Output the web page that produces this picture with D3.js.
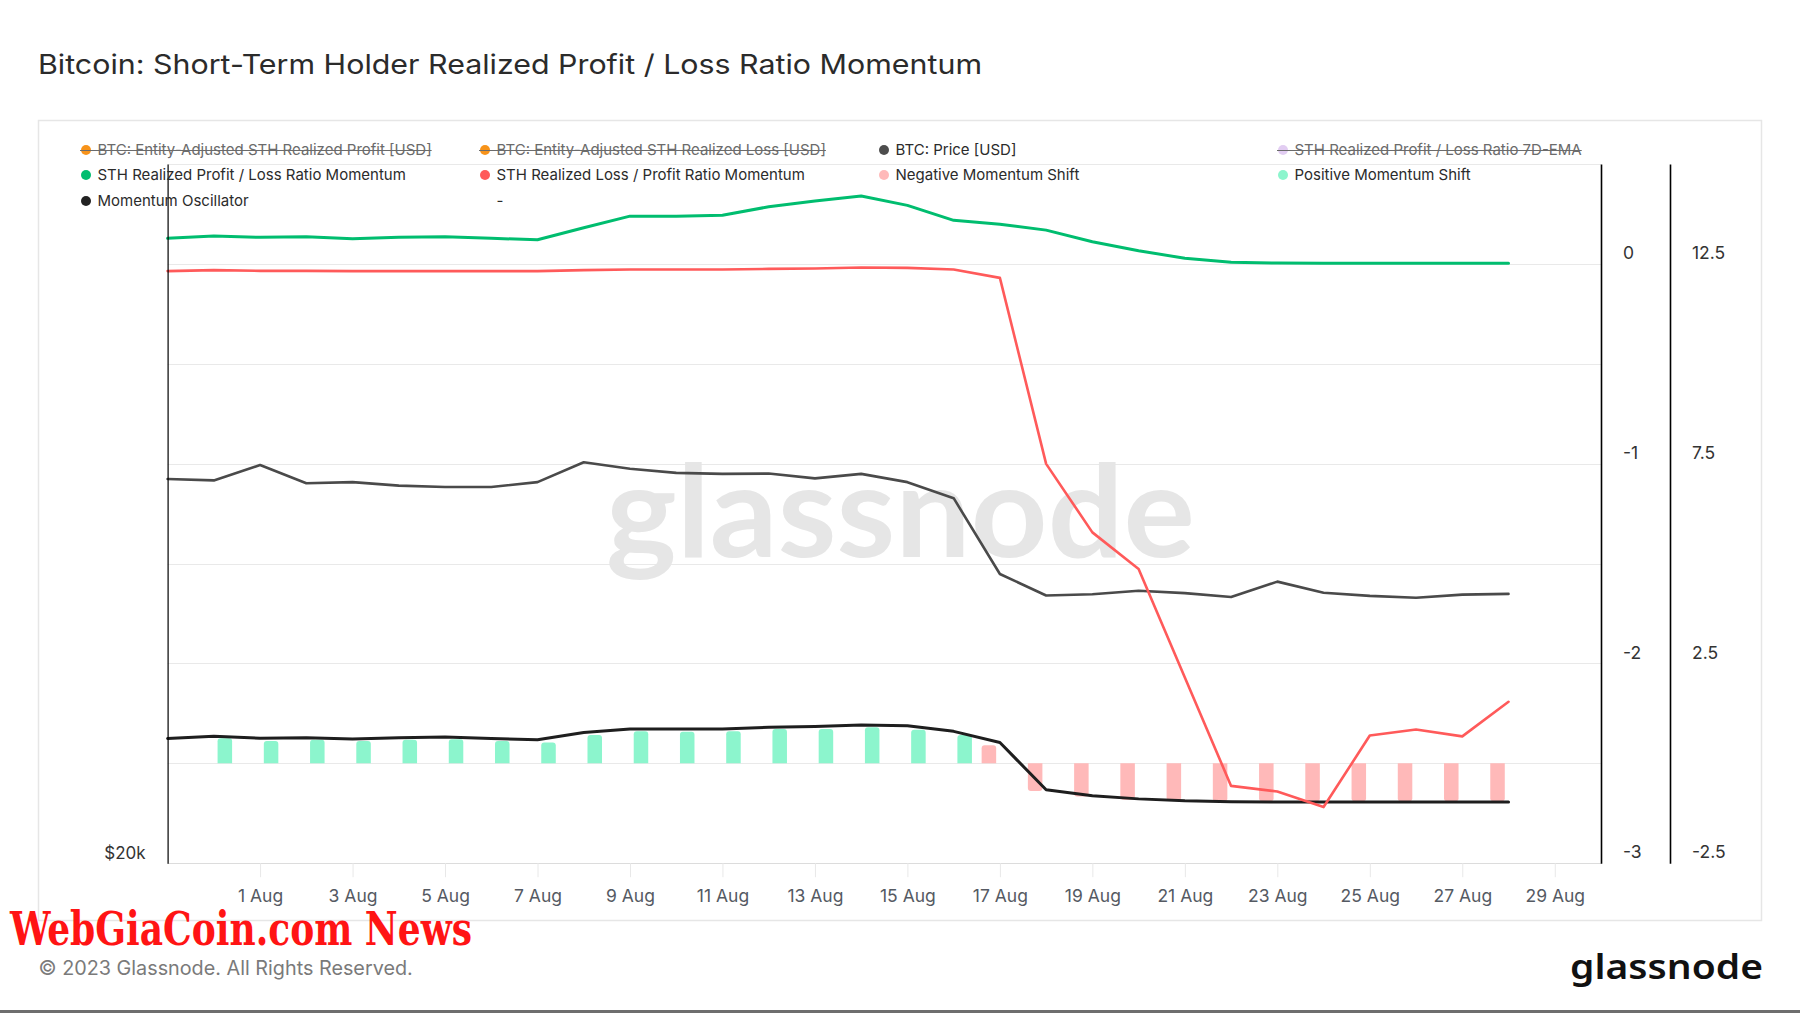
<!DOCTYPE html>
<html>
<head>
<meta charset="utf-8">
<script src="https://cdn.jsdelivr.net/npm/d3@7"></script>
<style>
  html, body { margin: 0; padding: 0; background: #fff; }
  svg { display: block; font-family: Inter, "Noto Sans", sans-serif; }
</style>
</head>
<body>
<svg id="chart" width="1800" height="1013"></svg>
<script>
// ---------------- DATA ----------------
const dates = ["2023-07-30","2023-07-31","2023-08-01","2023-08-02","2023-08-03","2023-08-04","2023-08-05","2023-08-06","2023-08-07","2023-08-08","2023-08-09","2023-08-10","2023-08-11","2023-08-12","2023-08-13","2023-08-14","2023-08-15","2023-08-16","2023-08-17","2023-08-18","2023-08-19","2023-08-20","2023-08-21","2023-08-22","2023-08-23","2023-08-24","2023-08-25","2023-08-26","2023-08-27","2023-08-28"];
const btcPrice = [29270,29230,29680,29150,29180,29080,29040,29040,29180,29760,29570,29450,29420,29430,29290,29420,29180,28720,26640,26080,26110,26200,26140,26040,26440,26150,26070,26020,26100,26120];
const profitLossMomentum = [0.128,0.139,0.133,0.136,0.126,0.133,0.136,0.128,0.121,0.181,0.239,0.239,0.243,0.286,0.315,0.340,0.293,0.218,0.198,0.169,0.111,0.066,0.028,0.008,0.004,0.003,0.003,0.003,0.003,0.003];
const lossProfitMomentum = [-0.036,-0.031,-0.035,-0.035,-0.036,-0.036,-0.036,-0.036,-0.036,-0.031,-0.028,-0.028,-0.028,-0.025,-0.023,-0.018,-0.020,-0.028,-0.070,-1.001,-1.344,-1.527,-2.071,-2.613,-2.641,-2.719,-2.361,-2.331,-2.365,-2.192];
const momentumOscillator = [0.62,0.68,0.63,0.64,0.61,0.64,0.66,0.62,0.59,0.77,0.86,0.86,0.86,0.90,0.92,0.96,0.94,0.80,0.52,-0.66,-0.81,-0.89,-0.94,-0.96,-0.97,-0.97,-0.97,-0.97,-0.97,-0.97];
const positiveShift = [null,0.63,0.56,0.59,0.56,0.59,0.60,0.56,0.52,0.71,0.80,0.79,0.80,0.86,0.86,0.90,0.84,0.71,null,null,null,null,null,null,null,null,null,null,null,null];
const negativeShift = [null,null,null,null,null,null,null,null,null,null,null,null,null,null,null,null,null,null,0.45,-0.69,-0.83,-0.91,-0.93,-0.95,-0.95,-0.95,-0.95,-0.95,-0.95,-0.95];

const xTickDates = ["2023-08-01","2023-08-03","2023-08-05","2023-08-07","2023-08-09","2023-08-11","2023-08-13","2023-08-15","2023-08-17","2023-08-19","2023-08-21","2023-08-23","2023-08-25","2023-08-27","2023-08-29"];
const ratioTicks = [0,-1,-2,-3];
const oscTicks = [12.5,7.5,2.5,-2.5];
const priceTicks = [20000];

const legendLabels = ["BTC: Entity-Adjusted STH Realized Profit [USD]","BTC: Entity-Adjusted STH Realized Loss [USD]","BTC: Price [USD]","STH Realized Profit / Loss Ratio 7D-EMA","STH Realized Profit / Loss Ratio Momentum","STH Realized Loss / Profit Ratio Momentum","Negative Momentum Shift","Positive Momentum Shift","Momentum Oscillator","-"];
const legendColors = ["#f7931a","#f7931a","#4d4d4d","#e2cdf2","#00bd6f","#ff5a5a","#ffb9b9","#8cf5cd","#222222",null];
const legendStruck = [true,true,false,true,false,false,false,false,false,false];

// ---------------- LAYOUT ----------------
const W = 1800, H = 1013;
const L = 167.6, R = 1601, T = 164, B = 863.2;
const parse = d3.utcParse("%Y-%m-%d");
const xDates = dates.map(parse);

const svg = d3.select("#chart");

const x = d3.scaleUtc().domain([parse("2023-07-30"), parse("2023-08-30")]).range([L, R]);
const yRatio = d3.scaleLinear().domain([-3, 0.5]).range([B, T]);
const yOsc = d3.scaleLinear().domain([-2.5, 15]).range([B, T]);
const yPrice = d3.scaleLog().domain([20000, 40000]).range([B, T]);
const sub = d3.scaleBand().domain(["neg","pos"]).range([-22, 22]).paddingInner(0.34).paddingOuter(0.17);

// Title
svg.append("text").attr("x", 38).attr("y", 74)
  .attr("font-size", 27).attr("fill", "#2b2b2b")
  .attr("textLength", 944).attr("lengthAdjust", "spacingAndGlyphs")
  .text("Bitcoin: Short-Term Holder Realized Profit / Loss Ratio Momentum");

// Panel border
svg.append("rect").attr("x", 38.5).attr("y", 120.5).attr("width", 1723).attr("height", 800)
  .attr("fill", "none").attr("stroke", "#e6e6e6").attr("stroke-width", 1.5);

// Gridlines
const gridVals = d3.range(0.5, -3.01, -0.5);
svg.append("g").selectAll("line").data(gridVals).join("line")
  .attr("x1", L).attr("x2", R)
  .attr("y1", d => Math.round(yRatio(d)) + 0.5).attr("y2", d => Math.round(yRatio(d)) + 0.5)
  .attr("stroke", d => d === -3 ? "#dcdcdc" : "#e9e9e9").attr("stroke-width", 1.2);

// Watermark
svg.append("text").attr("x", 606).attr("y", 557).attr("font-family", "Lato, 'Noto Sans', sans-serif")
  .attr("font-weight", "bold")
  .attr("font-size", 128).attr("fill", "#e6e6e6").attr("textLength", 589).attr("lengthAdjust", "spacingAndGlyphs")
  .text("glassnode");

// X axis ticks
const xAxis = d3.axisBottom(x).tickValues(xTickDates.map(parse)).tickFormat(d3.utcFormat("%-d %b")).tickSize(14).tickPadding(12);
const gx = svg.append("g").attr("transform", `translate(0,${B})`).call(xAxis);
gx.select(".domain").remove();
gx.selectAll(".tick line").attr("stroke", "#e8e8e8");
gx.selectAll(".tick text").attr("font-size", 17.5).attr("fill", "#555a63").attr("font-family", "Inter, sans-serif");

// Bars
function barPath(cx, w, v, scale) {
  const y0 = scale(0), y1 = scale(v);
  const r = Math.min(3, Math.abs(y1 - y0));
  const xl = cx - w / 2, xr = cx + w / 2;
  if (y1 < y0) {
    return `M${xl},${y0}V${y1 + r}Q${xl},${y1} ${xl + r},${y1}H${xr - r}Q${xr},${y1} ${xr},${y1 + r}V${y0}Z`;
  } else {
    return `M${xl},${y0}V${y1 - r}Q${xl},${y1} ${xl + r},${y1}H${xr - r}Q${xr},${y1} ${xr},${y1 - r}V${y0}Z`;
  }
}
const barsG = svg.append("g");
barsG.selectAll("path.pos").data(xDates.map((d, i) => ({d, v: positiveShift[i]})).filter(e => e.v !== null))
  .join("path").attr("class", "pos").attr("fill", "#8cf5cd")
  .attr("d", e => barPath(x(e.d) + sub("pos") + sub.bandwidth() / 2, sub.bandwidth(), e.v, yOsc));
barsG.selectAll("path.neg").data(xDates.map((d, i) => ({d, v: negativeShift[i]})).filter(e => e.v !== null))
  .join("path").attr("class", "neg").attr("fill", "#ffb9b9")
  .attr("d", e => barPath(x(e.d) + sub("neg") + sub.bandwidth() / 2, sub.bandwidth(), e.v, yOsc));

// Lines
function drawLine(values, yScale, color, width) {
  const line = d3.line().x((v, i) => x(xDates[i])).y(v => yScale(v));
  svg.append("path").datum(values).attr("d", line).attr("fill", "none")
    .attr("stroke", color).attr("stroke-width", width).attr("stroke-linejoin", "round").attr("stroke-linecap", "round");
}
drawLine(btcPrice, yPrice, "#4a4a4a", 2.6);
drawLine(profitLossMomentum, yRatio, "#00bd6f", 3);
drawLine(momentumOscillator, yOsc, "#1e1e1e", 3);
drawLine(lossProfitMomentum, yRatio, "#ff5a5a", 2.6);

// Left axis (price)
const gl = svg.append("g").attr("transform", `translate(${L},0)`)
  .call(d3.axisLeft(yPrice).tickValues(priceTicks).tickSize(0).tickPadding(22).tickFormat(d => "$" + d / 1000 + "k"));
gl.select(".domain").attr("stroke", "#000").attr("stroke-width", 1.2);
gl.selectAll(".tick text").attr("font-size", 17).attr("fill", "#333").attr("dy", "-0.3em").attr("font-family", "Inter, sans-serif");

// Right axis 1 (ratio)
const gr1 = svg.append("g").attr("transform", `translate(${R},0)`)
  .call(d3.axisRight(yRatio).tickValues(ratioTicks).tickSize(0).tickPadding(22).tickFormat(d => String(d)));
gr1.select(".domain").attr("stroke", "#000").attr("stroke-width", 1.6);
gr1.selectAll(".tick text").attr("font-size", 17.5).attr("fill", "#333").attr("dy", "-0.3em").attr("font-family", "Inter, sans-serif");

// Right axis 2 (oscillator)
const gr2 = svg.append("g").attr("transform", `translate(1670,0)`)
  .call(d3.axisRight(yOsc).tickValues(oscTicks).tickSize(0).tickPadding(22).tickFormat(d => String(d)));
gr2.select(".domain").attr("stroke", "#000").attr("stroke-width", 1.6);
gr2.selectAll(".tick text").attr("font-size", 17.5).attr("fill", "#333").attr("dy", "-0.3em").attr("font-family", "Inter, sans-serif");

// Legend
const colX = [86, 485, 884, 1283];
const rowY = [150, 175, 201];
const lg = svg.append("g").attr("font-size", 15);
legendLabels.forEach((lab, i) => {
  const cx = colX[i % 4], cy = rowY[Math.floor(i / 4)];
  const item = lg.append("g");
  if (legendColors[i]) {
    item.append("circle").attr("cx", cx).attr("cy", cy).attr("r", 5).attr("fill", legendColors[i]);
  }
  const t = item.append("text").attr("x", cx + 11.5).attr("y", cy).attr("dy", "0.35em")
    .attr("fill", legendStruck[i] ? "#6b6b6b" : "#2b2b2b").text(lab);
  if (legendStruck[i]) {
    const len = t.node().getComputedTextLength();
    item.append("line").attr("x1", cx - 6).attr("x2", cx + 11.5 + len).attr("y1", cy + 0.5).attr("y2", cy + 0.5)
      .attr("stroke", "#6b6b6b").attr("stroke-width", 1.2);
  }
});

// Footer
svg.append("text").attr("x", 10).attr("y", 945).attr("font-family", "'DejaVu Serif Condensed', 'DejaVu Serif', serif")
  .attr("font-weight", "bold").attr("font-size", 46).attr("fill", "#ff1414")
  .attr("textLength", 462).attr("lengthAdjust", "spacingAndGlyphs").text("WebGiaCoin.com News");
svg.append("text").attr("x", 38.5).attr("y", 975).attr("font-size", 19.8).attr("fill", "#7a7a7a")
  .text("© 2023 Glassnode. All Rights Reserved.");
svg.append("text").attr("x", 1570).attr("y", 979).attr("font-family", "'Noto Sans', sans-serif").attr("font-weight", 600)
  .attr("font-size", 34).attr("fill", "#111").attr("textLength", 193).attr("lengthAdjust", "spacingAndGlyphs").text("glassnode");
svg.append("rect").attr("x", 0).attr("y", 1010).attr("width", W).attr("height", 3).attr("fill", "#6e6e6e");
</script>
</body>
</html>
